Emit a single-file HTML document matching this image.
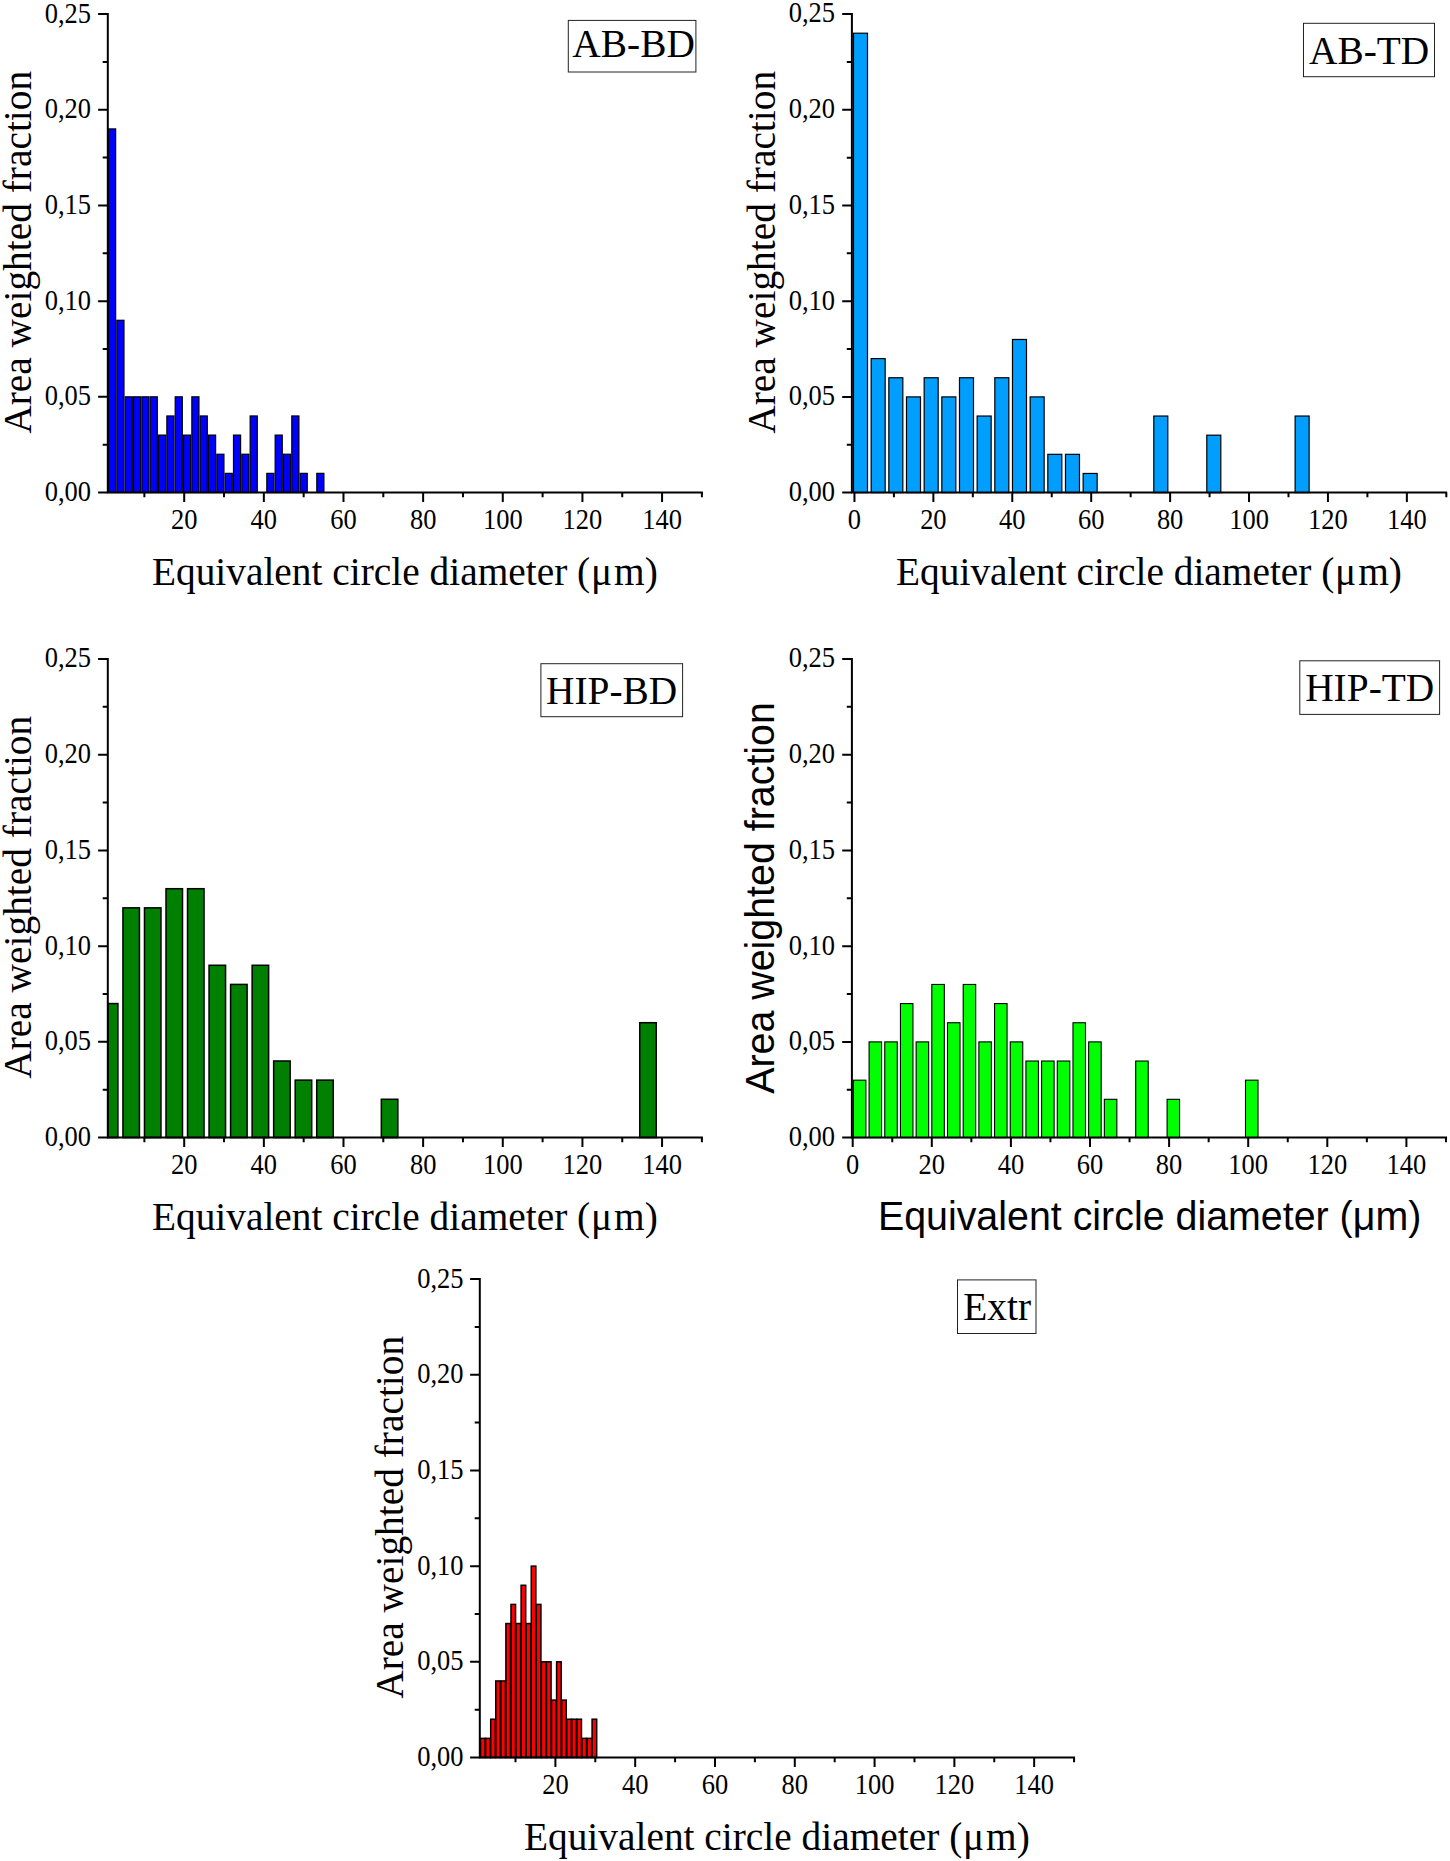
<!DOCTYPE html>
<html lang="en"><head><meta charset="utf-8"><title>Grain size distributions</title>
<style>html,body{margin:0;padding:0;background:#fff}svg{display:block}text{fill:#000}</style></head><body>
<svg width="1450" height="1861" viewBox="0 0 1450 1861">
<rect width="1450" height="1861" fill="#fff"/>
<g>
<g fill="#0000ff" stroke="#000" stroke-width="1.2">
<rect x="108.55" y="128.92" width="7.1" height="363.58"/>
<rect x="116.88" y="320.28" width="7.1" height="172.22"/>
<rect x="125.21" y="396.82" width="7.1" height="95.68"/>
<rect x="133.54" y="396.82" width="7.1" height="95.68"/>
<rect x="141.87" y="396.82" width="7.1" height="95.68"/>
<rect x="150.2" y="396.82" width="7.1" height="95.68"/>
<rect x="158.53" y="435.09" width="7.1" height="57.41"/>
<rect x="166.86" y="415.96" width="7.1" height="76.54"/>
<rect x="175.19" y="396.82" width="7.1" height="95.68"/>
<rect x="183.52" y="435.09" width="7.1" height="57.41"/>
<rect x="191.85" y="396.82" width="7.1" height="95.68"/>
<rect x="200.18" y="415.96" width="7.1" height="76.54"/>
<rect x="208.51" y="435.09" width="7.1" height="57.41"/>
<rect x="216.84" y="454.23" width="7.1" height="38.27"/>
<rect x="225.17" y="473.36" width="7.1" height="19.14"/>
<rect x="233.5" y="435.09" width="7.1" height="57.41"/>
<rect x="241.83" y="454.23" width="7.1" height="38.27"/>
<rect x="250.16" y="415.96" width="7.1" height="76.54"/>
<rect x="266.82" y="473.36" width="7.1" height="19.14"/>
<rect x="275.15" y="435.09" width="7.1" height="57.41"/>
<rect x="283.48" y="454.23" width="7.1" height="38.27"/>
<rect x="291.81" y="415.96" width="7.1" height="76.54"/>
<rect x="300.14" y="473.36" width="7.1" height="19.14"/>
<rect x="316.8" y="473.36" width="7.1" height="19.14"/>
</g>
<g stroke="#000" stroke-width="2" fill="none">
<path d="M107.8 13.1V492.5H702.9"/>
<path d="M107.8 492.5H98.1M107.8 396.82H98.1M107.8 301.14H98.1M107.8 205.46H98.1M107.8 109.78H98.1M107.8 14.1H98.1M107.8 444.66H102.7M107.8 348.98H102.7M107.8 253.3H102.7M107.8 157.62H102.7M107.8 61.94H102.7M184.2 492.5V501.9M263.85 492.5V501.9M343.49 492.5V501.9M423.13 492.5V501.9M502.78 492.5V501.9M582.43 492.5V501.9M662.07 492.5V501.9M144.38 492.5V497.2M224.02 492.5V497.2M303.67 492.5V497.2M383.31 492.5V497.2M462.96 492.5V497.2M542.6 492.5V497.2M622.25 492.5V497.2M701.89 492.5V497.2"/>
</g>
<g font-family="'Liberation Serif', serif" font-size="28.8">
<g text-anchor="end">
<text transform="translate(91 500.9) scale(0.92 1)">0,00</text>
<text transform="translate(91 405.22) scale(0.92 1)">0,05</text>
<text transform="translate(91 309.54) scale(0.92 1)">0,10</text>
<text transform="translate(91 213.86) scale(0.92 1)">0,15</text>
<text transform="translate(91 118.18) scale(0.92 1)">0,20</text>
<text transform="translate(91 22.5) scale(0.92 1)">0,25</text>
</g><g text-anchor="middle">
<text transform="translate(184.2 529.2) scale(0.92 1)">20</text>
<text transform="translate(263.85 529.2) scale(0.92 1)">40</text>
<text transform="translate(343.49 529.2) scale(0.92 1)">60</text>
<text transform="translate(423.13 529.2) scale(0.92 1)">80</text>
<text transform="translate(502.78 529.2) scale(0.92 1)">100</text>
<text transform="translate(582.43 529.2) scale(0.92 1)">120</text>
<text transform="translate(662.07 529.2) scale(0.92 1)">140</text>
</g></g>
<g font-family="'Liberation Serif', serif" font-size="40.6" text-anchor="middle">
<text transform="translate(404.85 584.8) scale(0.97 1)">Equivalent circle diameter (<tspan dx="0.7">μ</tspan><tspan dx="2.1">m)</tspan></text>
<text transform="translate(31.4 252.3) rotate(-90) scale(0.97 1)">Area weighted fraction</text>
</g>
<rect x="568.3" y="20.4" width="127.6" height="51.6" fill="#fff" stroke="#222" stroke-width="1"/>
<text transform="translate(633.6 56.8) scale(0.97 1)" font-family="'Liberation Serif', serif" font-size="40.6" text-anchor="middle">AB-BD</text>
</g>
<g>
<g fill="#009fff" stroke="#000" stroke-width="1.2">
<rect x="853.5" y="33.21" width="14" height="459.39"/>
<rect x="871.16" y="358.61" width="14" height="133.99"/>
<rect x="888.83" y="377.75" width="14" height="114.85"/>
<rect x="906.5" y="396.89" width="14" height="95.71"/>
<rect x="924.16" y="377.75" width="14" height="114.85"/>
<rect x="941.83" y="396.89" width="14" height="95.71"/>
<rect x="959.49" y="377.75" width="14" height="114.85"/>
<rect x="977.15" y="416.04" width="14" height="76.56"/>
<rect x="994.82" y="377.75" width="14" height="114.85"/>
<rect x="1012.49" y="339.47" width="14" height="153.13"/>
<rect x="1030.15" y="396.89" width="14" height="95.71"/>
<rect x="1047.82" y="454.32" width="14" height="38.28"/>
<rect x="1065.48" y="454.32" width="14" height="38.28"/>
<rect x="1083.14" y="473.46" width="14" height="19.14"/>
<rect x="1153.81" y="416.04" width="14" height="76.56"/>
<rect x="1206.8" y="435.18" width="14" height="57.42"/>
<rect x="1295.12" y="416.04" width="14" height="76.56"/>
</g>
<g stroke="#000" stroke-width="2" fill="none">
<path d="M851.9 13.07V492.6H1447.1"/>
<path d="M851.9 492.6H842.2M851.9 396.89H842.2M851.9 301.19H842.2M851.9 205.48H842.2M851.9 109.78H842.2M851.9 14.07H842.2M851.9 444.75H846.8M851.9 349.04H846.8M851.9 253.34H846.8M851.9 157.63H846.8M851.9 61.92H846.8M854.46 492.6V502M933.37 492.6V502M1012.28 492.6V502M1091.2 492.6V502M1170.12 492.6V502M1249.03 492.6V502M1327.94 492.6V502M1406.86 492.6V502M893.91 492.6V497.3M972.83 492.6V497.3M1051.74 492.6V497.3M1130.66 492.6V497.3M1209.57 492.6V497.3M1288.49 492.6V497.3M1367.4 492.6V497.3M1446.32 492.6V497.3"/>
</g>
<g font-family="'Liberation Serif', serif" font-size="28.8">
<g text-anchor="end">
<text transform="translate(835.1 501) scale(0.92 1)">0,00</text>
<text transform="translate(835.1 405.29) scale(0.92 1)">0,05</text>
<text transform="translate(835.1 309.59) scale(0.92 1)">0,10</text>
<text transform="translate(835.1 213.88) scale(0.92 1)">0,15</text>
<text transform="translate(835.1 118.18) scale(0.92 1)">0,20</text>
<text transform="translate(835.1 22.47) scale(0.92 1)">0,25</text>
</g><g text-anchor="middle">
<text transform="translate(854.46 529.3) scale(0.92 1)">0</text>
<text transform="translate(933.37 529.3) scale(0.92 1)">20</text>
<text transform="translate(1012.28 529.3) scale(0.92 1)">40</text>
<text transform="translate(1091.2 529.3) scale(0.92 1)">60</text>
<text transform="translate(1170.12 529.3) scale(0.92 1)">80</text>
<text transform="translate(1249.03 529.3) scale(0.92 1)">100</text>
<text transform="translate(1327.94 529.3) scale(0.92 1)">120</text>
<text transform="translate(1406.86 529.3) scale(0.92 1)">140</text>
</g></g>
<g font-family="'Liberation Serif', serif" font-size="40.6" text-anchor="middle">
<text transform="translate(1149 584.8) scale(0.97 1)">Equivalent circle diameter (<tspan dx="0.7">μ</tspan><tspan dx="2.1">m)</tspan></text>
<text transform="translate(775.2 252.34) rotate(-90) scale(0.97 1)">Area weighted fraction</text>
</g>
<rect x="1303.5" y="23.3" width="131" height="53.4" fill="#fff" stroke="#222" stroke-width="1"/>
<text transform="translate(1369.1 63.7) scale(0.97 1)" font-family="'Liberation Serif', serif" font-size="40.6" text-anchor="middle">AB-TD</text>
</g>
<g>
<g fill="#008000" stroke="#000" stroke-width="1.5">
<rect x="107.8" y="1003.56" width="10.1" height="133.99"/>
<rect x="122.93" y="907.85" width="16.5" height="229.7"/>
<rect x="144.47" y="907.85" width="16.5" height="229.7"/>
<rect x="166" y="888.7" width="16.5" height="248.85"/>
<rect x="187.53" y="888.7" width="16.5" height="248.85"/>
<rect x="209.06" y="965.27" width="16.5" height="172.28"/>
<rect x="230.6" y="984.41" width="16.5" height="153.14"/>
<rect x="252.13" y="965.27" width="16.5" height="172.28"/>
<rect x="273.66" y="1060.98" width="16.5" height="76.57"/>
<rect x="295.2" y="1080.12" width="16.5" height="57.43"/>
<rect x="316.73" y="1080.12" width="16.5" height="57.43"/>
<rect x="381.33" y="1099.27" width="16.5" height="38.28"/>
<rect x="639.73" y="1022.7" width="16.5" height="114.85"/>
</g>
<g stroke="#000" stroke-width="2" fill="none">
<path d="M107.8 658V1137.55H702.9"/>
<path d="M107.8 1137.55H98.1M107.8 1041.84H98.1M107.8 946.13H98.1M107.8 850.42H98.1M107.8 754.71H98.1M107.8 659H98.1M107.8 1089.69H102.7M107.8 993.98H102.7M107.8 898.27H102.7M107.8 802.57H102.7M107.8 706.86H102.7M184.2 1137.55V1146.95M263.85 1137.55V1146.95M343.49 1137.55V1146.95M423.13 1137.55V1146.95M502.78 1137.55V1146.95M582.43 1137.55V1146.95M662.07 1137.55V1146.95M144.38 1137.55V1142.25M224.02 1137.55V1142.25M303.67 1137.55V1142.25M383.31 1137.55V1142.25M462.96 1137.55V1142.25M542.6 1137.55V1142.25M622.25 1137.55V1142.25M701.89 1137.55V1142.25"/>
</g>
<g font-family="'Liberation Serif', serif" font-size="28.8">
<g text-anchor="end">
<text transform="translate(91 1145.95) scale(0.92 1)">0,00</text>
<text transform="translate(91 1050.24) scale(0.92 1)">0,05</text>
<text transform="translate(91 954.53) scale(0.92 1)">0,10</text>
<text transform="translate(91 858.82) scale(0.92 1)">0,15</text>
<text transform="translate(91 763.11) scale(0.92 1)">0,20</text>
<text transform="translate(91 667.4) scale(0.92 1)">0,25</text>
</g><g text-anchor="middle">
<text transform="translate(184.2 1174.25) scale(0.92 1)">20</text>
<text transform="translate(263.85 1174.25) scale(0.92 1)">40</text>
<text transform="translate(343.49 1174.25) scale(0.92 1)">60</text>
<text transform="translate(423.13 1174.25) scale(0.92 1)">80</text>
<text transform="translate(502.78 1174.25) scale(0.92 1)">100</text>
<text transform="translate(582.43 1174.25) scale(0.92 1)">120</text>
<text transform="translate(662.07 1174.25) scale(0.92 1)">140</text>
</g></g>
<g font-family="'Liberation Serif', serif" font-size="40.6" text-anchor="middle">
<text transform="translate(404.85 1229.8) scale(0.97 1)">Equivalent circle diameter (<tspan dx="0.7">μ</tspan><tspan dx="2.1">m)</tspan></text>
<text transform="translate(31.4 897.27) rotate(-90) scale(0.97 1)">Area weighted fraction</text>
</g>
<rect x="540.9" y="663.7" width="141.7" height="53" fill="#fff" stroke="#222" stroke-width="1"/>
<text transform="translate(611.6 703.8) scale(0.97 1)" font-family="'Liberation Serif', serif" font-size="40.6" text-anchor="middle">HIP-BD</text>
</g>
<g>
<g fill="#00ff00" stroke="#000" stroke-width="1.1">
<rect x="853.4" y="1080.17" width="12.5" height="57.43"/>
<rect x="869.08" y="1041.88" width="12.5" height="95.72"/>
<rect x="884.77" y="1041.88" width="12.5" height="95.72"/>
<rect x="900.45" y="1003.59" width="12.5" height="134.01"/>
<rect x="916.14" y="1041.88" width="12.5" height="95.72"/>
<rect x="931.82" y="984.45" width="12.5" height="153.15"/>
<rect x="947.5" y="1022.74" width="12.5" height="114.86"/>
<rect x="963.19" y="984.45" width="12.5" height="153.15"/>
<rect x="978.87" y="1041.88" width="12.5" height="95.72"/>
<rect x="994.56" y="1003.59" width="12.5" height="134.01"/>
<rect x="1010.24" y="1041.88" width="12.5" height="95.72"/>
<rect x="1025.92" y="1061.02" width="12.5" height="76.58"/>
<rect x="1041.61" y="1061.02" width="12.5" height="76.58"/>
<rect x="1057.29" y="1061.02" width="12.5" height="76.58"/>
<rect x="1072.98" y="1022.74" width="12.5" height="114.86"/>
<rect x="1088.66" y="1041.88" width="12.5" height="95.72"/>
<rect x="1104.34" y="1099.31" width="12.5" height="38.29"/>
<rect x="1135.71" y="1061.02" width="12.5" height="76.58"/>
<rect x="1167.08" y="1099.31" width="12.5" height="38.29"/>
<rect x="1245.5" y="1080.17" width="12.5" height="57.43"/>
</g>
<g stroke="#000" stroke-width="2" fill="none">
<path d="M851.9 658V1137.6H1447.1"/>
<path d="M851.9 1137.6H842.2M851.9 1041.88H842.2M851.9 946.16H842.2M851.9 850.44H842.2M851.9 754.72H842.2M851.9 659H842.2M851.9 1089.74H846.8M851.9 994.02H846.8M851.9 898.3H846.8M851.9 802.58H846.8M851.9 706.86H846.8M852.7 1137.6V1147M931.8 1137.6V1147M1010.9 1137.6V1147M1090 1137.6V1147M1169.1 1137.6V1147M1248.2 1137.6V1147M1327.3 1137.6V1147M1406.4 1137.6V1147M892.25 1137.6V1142.3M971.35 1137.6V1142.3M1050.45 1137.6V1142.3M1129.55 1137.6V1142.3M1208.65 1137.6V1142.3M1287.75 1137.6V1142.3M1366.85 1137.6V1142.3M1445.95 1137.6V1142.3"/>
</g>
<g font-family="'Liberation Serif', serif" font-size="28.8">
<g text-anchor="end">
<text transform="translate(835.1 1146) scale(0.92 1)">0,00</text>
<text transform="translate(835.1 1050.28) scale(0.92 1)">0,05</text>
<text transform="translate(835.1 954.56) scale(0.92 1)">0,10</text>
<text transform="translate(835.1 858.84) scale(0.92 1)">0,15</text>
<text transform="translate(835.1 763.12) scale(0.92 1)">0,20</text>
<text transform="translate(835.1 667.4) scale(0.92 1)">0,25</text>
</g><g text-anchor="middle">
<text transform="translate(852.7 1174.3) scale(0.92 1)">0</text>
<text transform="translate(931.8 1174.3) scale(0.92 1)">20</text>
<text transform="translate(1010.9 1174.3) scale(0.92 1)">40</text>
<text transform="translate(1090 1174.3) scale(0.92 1)">60</text>
<text transform="translate(1169.1 1174.3) scale(0.92 1)">80</text>
<text transform="translate(1248.2 1174.3) scale(0.92 1)">100</text>
<text transform="translate(1327.3 1174.3) scale(0.92 1)">120</text>
<text transform="translate(1406.4 1174.3) scale(0.92 1)">140</text>
</g></g>
<g font-family="'Liberation Sans', sans-serif" font-size="40.6" text-anchor="middle">
<text transform="translate(1149.6 1229.8) scale(0.97 1)">Equivalent circle diameter (μm)</text>
<text transform="translate(774.4 898) rotate(-90) scale(0.97 1)">Area weighted fraction</text>
</g>
<rect x="1299.8" y="660.8" width="139.8" height="53.6" fill="#fff" stroke="#222" stroke-width="1"/>
<text transform="translate(1369.7 700.9) scale(0.97 1)" font-family="'Liberation Serif', serif" font-size="40.6" text-anchor="middle">HIP-TD</text>
</g>
<g>
<g fill="#ff0000" stroke="#000" stroke-width="1.5">
<rect x="480.55" y="1738.36" width="4.6" height="19.14"/>
<rect x="485.62" y="1738.36" width="4.6" height="19.14"/>
<rect x="490.69" y="1719.23" width="4.6" height="38.27"/>
<rect x="495.76" y="1680.96" width="4.6" height="76.54"/>
<rect x="500.83" y="1680.96" width="4.6" height="76.54"/>
<rect x="505.9" y="1623.55" width="4.6" height="133.95"/>
<rect x="510.97" y="1604.41" width="4.6" height="153.09"/>
<rect x="516.04" y="1623.55" width="4.6" height="133.95"/>
<rect x="521.11" y="1585.28" width="4.6" height="172.22"/>
<rect x="526.18" y="1623.55" width="4.6" height="133.95"/>
<rect x="531.25" y="1566.14" width="4.6" height="191.36"/>
<rect x="536.32" y="1604.41" width="4.6" height="153.09"/>
<rect x="541.39" y="1661.82" width="4.6" height="95.68"/>
<rect x="546.46" y="1661.82" width="4.6" height="95.68"/>
<rect x="551.53" y="1700.09" width="4.6" height="57.41"/>
<rect x="556.6" y="1661.82" width="4.6" height="95.68"/>
<rect x="561.67" y="1700.09" width="4.6" height="57.41"/>
<rect x="566.74" y="1719.23" width="4.6" height="38.27"/>
<rect x="571.81" y="1719.23" width="4.6" height="38.27"/>
<rect x="576.88" y="1719.23" width="4.6" height="38.27"/>
<rect x="581.95" y="1738.36" width="4.6" height="19.14"/>
<rect x="587.02" y="1738.36" width="4.6" height="19.14"/>
<rect x="592.09" y="1719.23" width="4.6" height="38.27"/>
</g>
<g stroke="#000" stroke-width="2" fill="none">
<path d="M479.8 1278.1V1757.5H1075"/>
<path d="M479.8 1757.5H470.1M479.8 1661.82H470.1M479.8 1566.14H470.1M479.8 1470.46H470.1M479.8 1374.78H470.1M479.8 1279.1H470.1M479.8 1709.66H474.7M479.8 1613.98H474.7M479.8 1518.3H474.7M479.8 1422.62H474.7M479.8 1326.94H474.7M555.4 1757.5V1766.9M635.19 1757.5V1766.9M714.99 1757.5V1766.9M794.79 1757.5V1766.9M874.58 1757.5V1766.9M954.38 1757.5V1766.9M1034.17 1757.5V1766.9M515.5 1757.5V1762.2M595.3 1757.5V1762.2M675.09 1757.5V1762.2M754.89 1757.5V1762.2M834.68 1757.5V1762.2M914.48 1757.5V1762.2M994.27 1757.5V1762.2M1074.07 1757.5V1762.2"/>
</g>
<g font-family="'Liberation Serif', serif" font-size="28.8">
<g text-anchor="end">
<text transform="translate(463.5 1765.9) scale(0.92 1)">0,00</text>
<text transform="translate(463.5 1670.22) scale(0.92 1)">0,05</text>
<text transform="translate(463.5 1574.54) scale(0.92 1)">0,10</text>
<text transform="translate(463.5 1478.86) scale(0.92 1)">0,15</text>
<text transform="translate(463.5 1383.18) scale(0.92 1)">0,20</text>
<text transform="translate(463.5 1287.5) scale(0.92 1)">0,25</text>
</g><g text-anchor="middle">
<text transform="translate(555.4 1794.2) scale(0.92 1)">20</text>
<text transform="translate(635.19 1794.2) scale(0.92 1)">40</text>
<text transform="translate(714.99 1794.2) scale(0.92 1)">60</text>
<text transform="translate(794.79 1794.2) scale(0.92 1)">80</text>
<text transform="translate(874.58 1794.2) scale(0.92 1)">100</text>
<text transform="translate(954.38 1794.2) scale(0.92 1)">120</text>
<text transform="translate(1034.17 1794.2) scale(0.92 1)">140</text>
</g></g>
<g font-family="'Liberation Serif', serif" font-size="40.6" text-anchor="middle">
<text transform="translate(776.9 1849.8) scale(0.97 1)">Equivalent circle diameter (<tspan dx="0.7">μ</tspan><tspan dx="2.1">m)</tspan></text>
<text transform="translate(402.8 1517.3) rotate(-90) scale(0.97 1)">Area weighted fraction</text>
</g>
<rect x="957.5" y="1279.9" width="78.5" height="53.6" fill="#fff" stroke="#222" stroke-width="1"/>
<text transform="translate(997.1 1319.7) scale(0.97 1)" font-family="'Liberation Serif', serif" font-size="40.6" text-anchor="middle">Extr</text>
</g>
</svg>
</body></html>
